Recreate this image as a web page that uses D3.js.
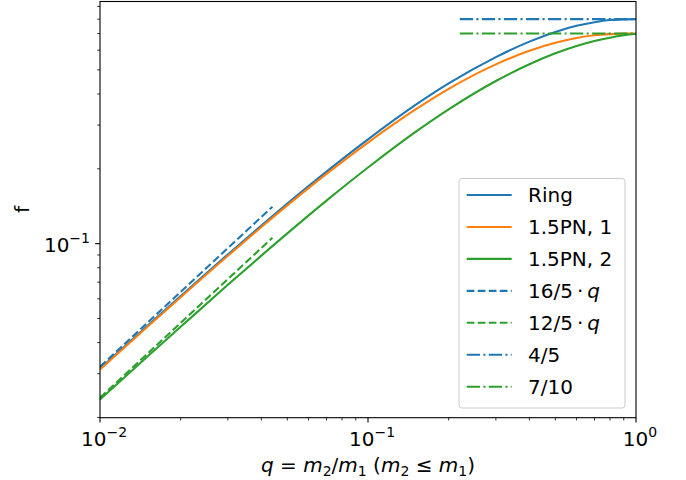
<!DOCTYPE html>
<html>
<head>
<meta charset="utf-8">
<script src="https://cdn.jsdelivr.net/npm/d3@7"></script>
<style>
  body { margin: 0; background: #fff; }
  text { font-family: "DejaVu Sans", sans-serif; fill: #000; }
</style>
</head>
<body>
<div id="chart"></div>
<script>
// Mass ratio samples and curve values
const qValues   = [0.01, 0.015, 0.02, 0.03, 0.04, 0.05, 0.07, 0.1, 0.15, 0.2, 0.3, 0.4, 0.5, 0.6, 0.7, 0.8, 0.9, 1.0];
const ringValues = [0.0314, 0.0466, 0.0615, 0.0905, 0.1182, 0.1449, 0.1949, 0.2628, 0.3606, 0.4410, 0.5627, 0.6495, 0.7105, 0.7518, 0.7777, 0.7935, 0.7985, 0.8000];
const pn1Values  = [0.0312, 0.0462, 0.0609, 0.0894, 0.1166, 0.1426, 0.1908, 0.2551, 0.3457, 0.4194, 0.5261, 0.5972, 0.6428, 0.6722, 0.6890, 0.6963, 0.6995, 0.7000];
const pn2Values  = [0.0236, 0.0351, 0.0463, 0.0683, 0.0895, 0.1100, 0.1490, 0.2025, 0.2810, 0.3470, 0.4510, 0.5270, 0.5830, 0.6240, 0.6530, 0.6740, 0.6890, 0.6990];

// Small-q and q -> 1 asymptotes
const lowQ      = [0.01, 0.044];
const slope16   = [0.032, 0.1408];
const slope12   = [0.024, 0.1056];
const highQ     = [0.22, 1.0];
const limit45   = [0.8, 0.8];
const limit710  = [0.7, 0.7];

// Axis ticks (labels are powers of ten)
const xMajor = [0.01, 0.1, 1];
const xExponents = ["\u22122", "\u22121", "0"];
const yMajor = [0.1];
const yExponents = ["\u22121"];

const W = 686, H = 480;
const plot = { left: 100, right: 636, top: 1.5, bottom: 417.7 };

const svg = d3.select("#chart").append("svg")
    .attr("width", W)
    .attr("height", H);

const x = d3.scaleLog().domain([0.01, 1]).range([plot.left, plot.right]);
const y = d3.scaleLog().domain([0.01995, 0.942]).range([plot.bottom, plot.top]);

const lw = 2.08;
const dashed = `${3.7 * lw},${1.6 * lw}`;
const dashdot = `${6.4 * lw},${1.6 * lw},${1 * lw},${1.6 * lw}`;

const series = [
    { label: [{ t: "Ring" }], q: qValues, f: ringValues, color: "#1f77b4", dash: null },
    { label: [{ t: "1.5PN, 1" }], q: qValues, f: pn1Values, color: "#ff7f0e", dash: null },
    { label: [{ t: "1.5PN, 2" }], q: qValues, f: pn2Values, color: "#2ca02c", dash: null },
    { label: [{ t: "16/5\u2009\u00b7\u2009" }, { t: "q", it: true }], q: lowQ, f: slope16, color: "#1f77b4", dash: dashed },
    { label: [{ t: "12/5\u2009\u00b7\u2009" }, { t: "q", it: true }], q: lowQ, f: slope12, color: "#2ca02c", dash: dashed },
    { label: [{ t: "4/5" }], q: highQ, f: limit45, color: "#1f77b4", dash: dashdot },
    { label: [{ t: "7/10" }], q: highQ, f: limit710, color: "#2ca02c", dash: dashdot }
];

// Clip lines to the axes box
svg.append("defs").append("clipPath").attr("id", "clip")
    .append("rect")
    .attr("x", plot.left).attr("y", plot.top)
    .attr("width", plot.right - plot.left)
    .attr("height", plot.bottom - plot.top);

const line = d3.line()
    .x(d => x(d[0]))
    .y(d => y(d[1]))
    .curve(d3.curveMonotoneX);

svg.append("g")
    .attr("clip-path", "url(#clip)")
    .selectAll("path")
    .data(series)
    .enter().append("path")
    .attr("d", s => line(s.q.map((q, i) => [q, s.f[i]])))
    .attr("fill", "none")
    .attr("stroke", s => s.color)
    .attr("stroke-width", lw)
    .attr("stroke-dasharray", s => s.dash)
    .attr("stroke-linecap", "butt");

// Ticks: major and minor, drawn outward
const xMinor = x.ticks().filter(t => !xMajor.some(m => Math.abs(m - t) < 1e-9));
const yMinor = y.ticks().filter(t => !yMajor.some(m => Math.abs(m - t) < 1e-9));
const ticks = svg.append("g").attr("stroke", "#000");

ticks.selectAll(".xmaj").data(xMajor).enter().append("line")
    .attr("x1", d => x(d)).attr("x2", d => x(d))
    .attr("y1", plot.bottom).attr("y2", plot.bottom + 4.9)
    .attr("stroke-width", 1.1);
ticks.selectAll(".xmin").data(xMinor).enter().append("line")
    .attr("x1", d => x(d)).attr("x2", d => x(d))
    .attr("y1", plot.bottom).attr("y2", plot.bottom + 2.8)
    .attr("stroke-width", 0.8);
ticks.selectAll(".ymaj").data(yMajor).enter().append("line")
    .attr("y1", d => y(d)).attr("y2", d => y(d))
    .attr("x1", plot.left).attr("x2", plot.left - 4.9)
    .attr("stroke-width", 1.1);
ticks.selectAll(".ymin").data(yMinor).enter().append("line")
    .attr("y1", d => y(d)).attr("y2", d => y(d))
    .attr("x1", plot.left).attr("x2", plot.left - 2.8)
    .attr("stroke-width", 0.8);

// Frame
svg.append("rect")
    .attr("x", plot.left).attr("y", plot.top)
    .attr("width", plot.right - plot.left)
    .attr("height", plot.bottom - plot.top)
    .attr("fill", "none")
    .attr("stroke", "#000")
    .attr("stroke-width", 1.1);

// Power-of-ten tick labels
function powerLabel(sel, exp) {
    sel.append("tspan").text("10");
    sel.append("tspan").attr("dy", -9).attr("font-size", 14).text(exp);
}

xMajor.forEach((v, i) => {
    svg.append("text")
        .attr("x", x(v) + 4)
        .attr("y", 446)
        .attr("font-size", 20)
        .attr("text-anchor", "middle")
        .call(powerLabel, xExponents[i]);
});

yMajor.forEach((v, i) => {
    svg.append("text")
        .attr("x", 90)
        .attr("y", y(v) + 8)
        .attr("font-size", 20)
        .attr("text-anchor", "end")
        .call(powerLabel, yExponents[i]);
});

// Axis labels
const xl = svg.append("text")
    .attr("x", (plot.left + plot.right) / 2)
    .attr("y", 472)
    .attr("font-size", 20)
    .attr("text-anchor", "middle");
function part(t, opts) {
    const ts = xl.append("tspan").text(t);
    if (opts && opts.it) ts.attr("font-style", "italic");
    if (opts && opts.sub) ts.attr("font-size", 14).attr("dy", 4);
    if (opts && opts.up) ts.attr("dy", -4);
    return ts;
}
part("q", { it: true });
part(" = ");
part("m", { it: true }); part("2", { sub: true }); part("/", { up: true });
part("m", { it: true }); part("1", { sub: true }); part(" (", { up: true });
part("m", { it: true }); part("2", { sub: true }); part(" \u2264 ", { up: true });
part("m", { it: true }); part("1", { sub: true }); part(")", { up: true });

svg.append("text")
    .attr("transform", `translate(29,${(plot.top + plot.bottom) / 2}) rotate(-90)`)
    .attr("font-size", 20)
    .attr("text-anchor", "middle")
    .text("f");

// Legend
const legend = svg.append("g");
legend.append("rect")
    .attr("x", 459).attr("y", 178.5)
    .attr("width", 166).attr("height", 229.5)
    .attr("rx", 3)
    .attr("fill", "rgba(255,255,255,0.8)")
    .attr("stroke", "#cccccc")
    .attr("stroke-width", 1);

const rows = legend.selectAll(".row")
    .data(series)
    .enter().append("g")
    .attr("transform", (d, i) => `translate(0,${195 + i * 31.95})`);

rows.append("line")
    .attr("x1", 466.7).attr("x2", 511.7)
    .attr("stroke", d => d.color)
    .attr("stroke-width", lw)
    .attr("stroke-dasharray", d => d.dash);

rows.append("text")
    .attr("x", 528)
    .attr("y", 7)
    .attr("font-size", 20)
    .each(function(d) {
        const t = d3.select(this);
        d.label.forEach(p => {
            const ts = t.append("tspan").text(p.t);
            if (p.it) ts.attr("font-style", "italic");
        });
    });
</script>
</body>
</html>
